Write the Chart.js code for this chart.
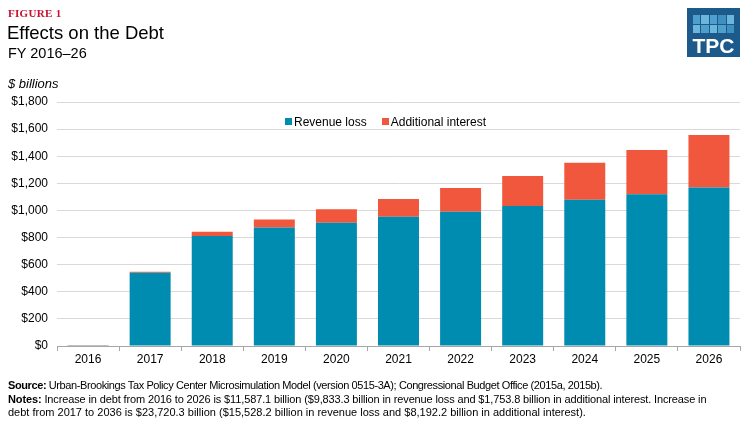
<!DOCTYPE html>
<html>
<head>
<meta charset="utf-8">
<script src="https://cdn.jsdelivr.net/npm/chart.js@4"></script>
<style>
  html,body{margin:0;padding:0;background:#fff;}
  #wrap{position:relative;width:752px;height:426px;overflow:hidden;font-family:"Liberation Sans",Arial,sans-serif;color:#000;}
  #c{position:absolute;left:0;top:0;}
  .t{position:absolute;white-space:nowrap;}
  #fig{left:8px;top:7px;font-family:"Liberation Serif","Times New Roman",serif;font-size:11px;color:#c8102e;font-weight:bold;letter-spacing:0.3px;}
  #title{left:7px;top:22px;font-size:18.5px;}
  #sub{left:8px;top:45px;font-size:14.5px;}
  #unit{left:8px;top:76px;font-size:13px;font-style:italic;}
  #legend{position:absolute;left:285px;top:115px;font-size:12px;white-space:nowrap;}
  #legend span.sq{display:inline-block;width:7px;height:7px;margin-right:2px;vertical-align:1px;}
  #legend span.item{margin-right:15px;}
  #foot{position:absolute;left:8px;top:379px;font-family:"Liberation Sans",Arial,sans-serif;font-size:11px;line-height:13.5px;white-space:nowrap;}
  #logo{position:absolute;left:687px;top:8px;width:53px;height:49px;background:#1d5a8c;}
  #logo .g{position:absolute;left:6px;top:7px;width:41px;height:18px;display:grid;grid-template-columns:repeat(5,1fr);grid-template-rows:repeat(2,1fr);gap:1px;}
  #logo .tx{position:absolute;left:0;top:26px;width:53px;text-align:center;color:#fff;font-weight:bold;font-size:21px;line-height:24px;font-family:"Liberation Sans",Arial,sans-serif;}
</style>
</head>
<body>
<div id="wrap">
  <canvas id="c" width="752" height="426"></canvas>
  <div class="t" id="fig">FIGURE 1</div>
  <div class="t" id="title">Effects on the Debt</div>
  <div class="t" id="sub">FY 2016–26</div>
  <div class="t" id="unit">$ billions</div>
  <div id="legend"></div>
  <div id="logo"><div class="g">
    <div style="background:#4f9fcc"></div><div style="background:#6cb6dc"></div><div style="background:#4f9fcc"></div><div style="background:#3f8fc0"></div><div style="background:#6cb6dc"></div>
    <div style="background:#6cb6dc"></div><div style="background:#4f9fcc"></div><div style="background:#6cb6dc"></div><div style="background:#4f9fcc"></div><div style="background:#3f8fc0"></div>
  </div><div class="tx">TPC</div></div>
  <div id="foot">
    <div style="letter-spacing:-0.4px"><b>Source:</b> Urban-Brookings Tax Policy Center Microsimulation Model (version 0515-3A); Congressional Budget Office (2015a, 2015b).</div>
    <div style="letter-spacing:-0.13px"><b>Notes:</b> Increase in debt from 2016 to 2026 is $11,587.1 billion ($9,833.3 billion in revenue loss and $1,753.8 billion in additional interest. Increase in</div>
    <div>debt from 2017 to 2036 is $23,720.3 billion ($15,528.2 billion in revenue loss and $8,192.2 billion in additional interest).</div>
  </div>
</div>
<script>
const years = ["2016","2017","2018","2019","2020","2021","2022","2023","2024","2025","2026"];
const revenueLoss = [2, 541, 812, 875, 909, 954, 990, 1032, 1079, 1119, 1170];
const additionalInterest = [1, 6, 30, 59, 99, 130, 175, 222, 273, 326, 386];
const seriesNames = ["Revenue loss", "Additional interest"];
const seriesColors = ["#008bb0", "#f0573d"];
const yTicks = [0, 200, 400, 600, 800, 1000, 1200, 1400, 1600, 1800];

// HTML legend
const lg = document.getElementById('legend');
seriesNames.forEach((n,i)=>{
  const s = document.createElement('span'); s.className='item';
  s.innerHTML = '<span class="sq" style="background:'+seriesColors[i]+'"></span>'+n;
  lg.appendChild(s);
});

const fontFam = '"Liberation Sans", Arial, sans-serif';
new Chart(document.getElementById('c'), {
  type: 'bar',
  data: {
    labels: years,
    datasets: [
      {label: seriesNames[0], data: revenueLoss, backgroundColor: seriesColors[0], borderWidth: 0},
      {label: seriesNames[1], data: additionalInterest, backgroundColor: seriesColors[1], borderWidth: 0}
    ]
  },
  options: {
    responsive: false,
    animation: false,
    devicePixelRatio: 1,
    layout: {padding: {top: 102, right: 12, left: 0, bottom: 0}},
    plugins: {legend: {display: false}, tooltip: {enabled: false}},
    datasets: {bar: {categoryPercentage: 0.66, barPercentage: 1.0}},
    scales: {
      x: {
        stacked: true,
        offset: true,
        afterFit: s => { s.height = 80; },
        grid: {display: true, drawOnChartArea: false, drawTicks: true, tickLength: 5, offset: true, color: '#a6a6a6'},
        border: {display: true, color: '#a6a6a6', width: 1},
        ticks: {color: '#000', font: {family: fontFam, size: 12}, padding: 1}
      },
      y: {
        stacked: true,
        min: 0, max: 1800,
        afterFit: s => { s.width = 57; },
        afterBuildTicks: s => { s.ticks = yTicks.map(v => ({value: v})); },
        grid: {color: '#d9d9d9', drawTicks: false},
        border: {display: false},
        ticks: {color: '#000', font: {family: fontFam, size: 12}, padding: 9,
          callback: v => '$' + Number(v).toLocaleString('en-US')}
      }
    }
  }
});
</script>
</body>
</html>
